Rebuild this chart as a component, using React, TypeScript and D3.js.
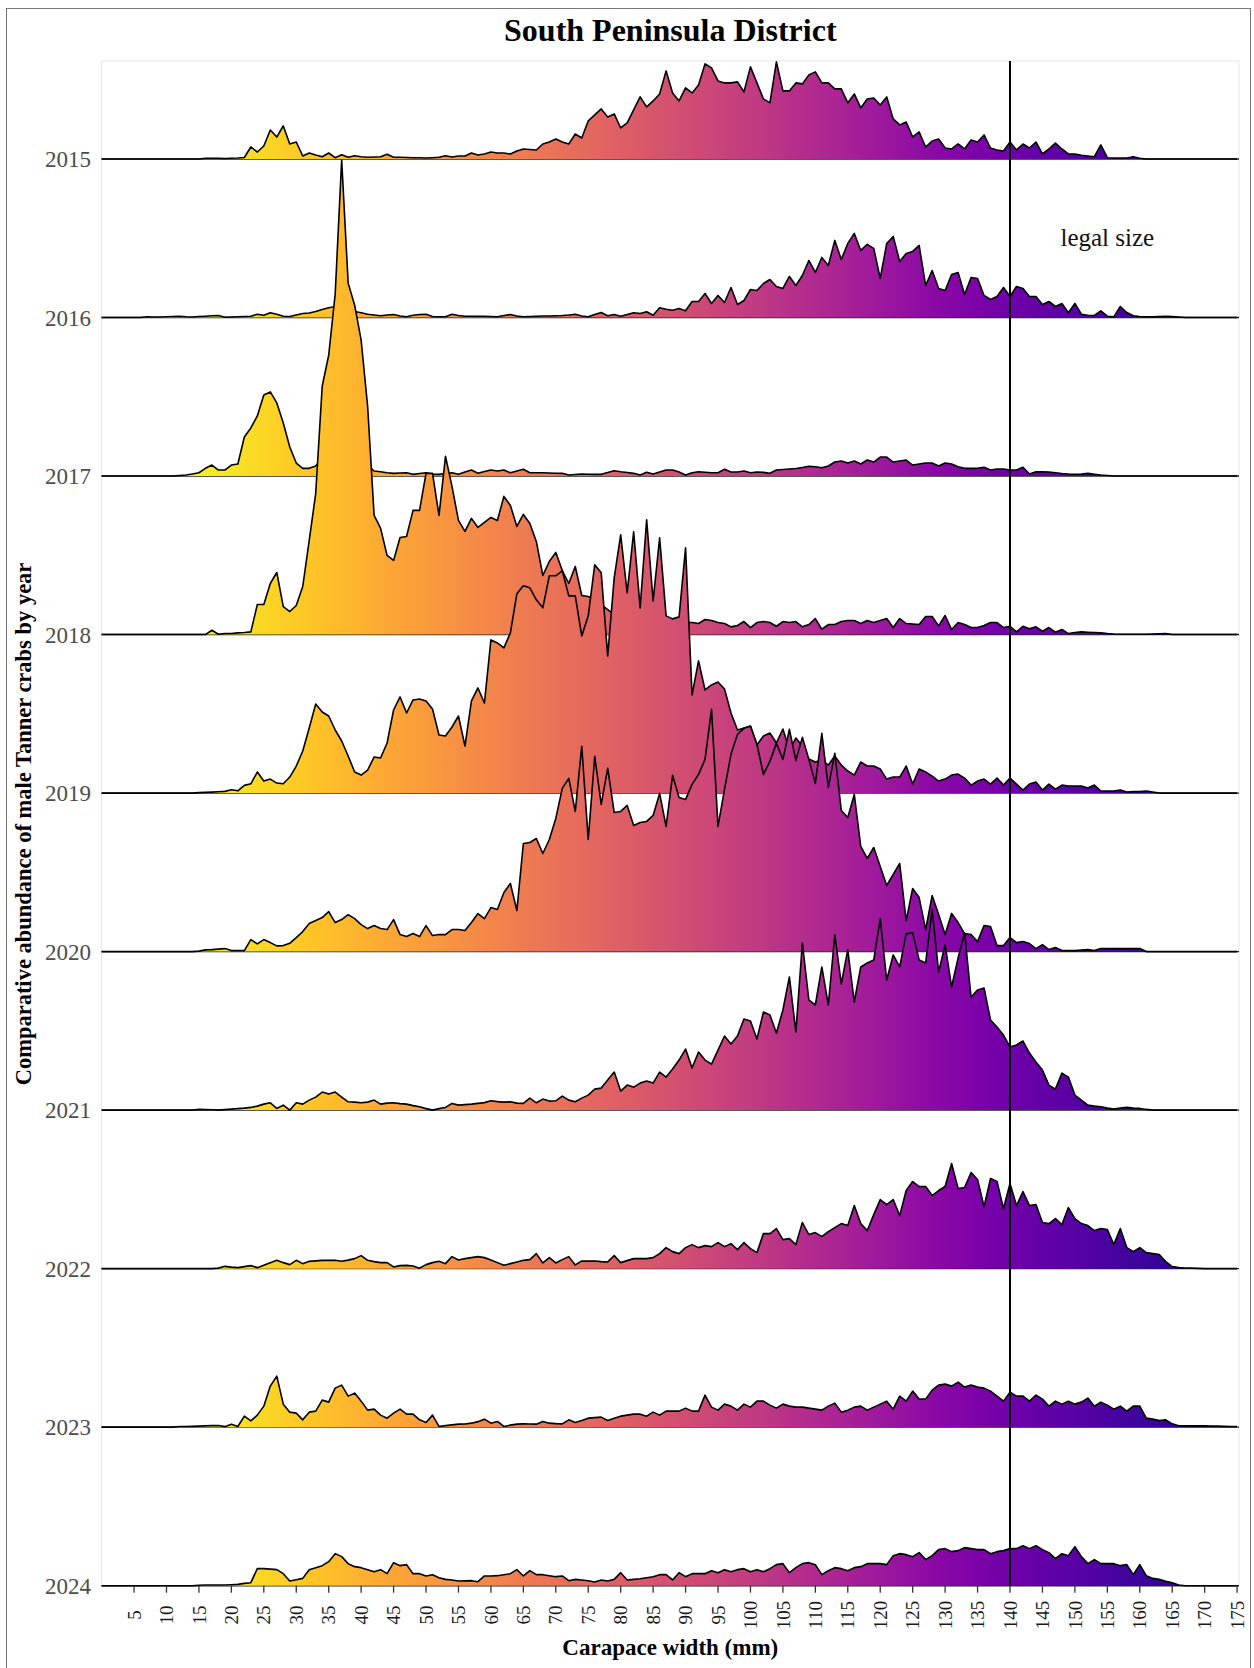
import React, { useEffect, useRef } from "react";
import * as d3 from "d3";

// Comparative abundance by 1 mm carapace-width bin.
// Each series starts at the mm given by its "from" value; bins outside are 0.
const years = ["2015", "2016", "2017", "2018", "2019", "2020", "2021", "2022", "2023", "2024"];
const xTicks = d3.range(5, 176, 5);
const legalSize = 140;

const from2015 = 10;
const cw2015 = [
  0, 0, 0, 0, 0, 0, 0.7, 0.7, 0.7, 0.5,
  0.7, 1, 1.5, 12, 7, 13, 29, 22, 33, 15,
  17, 3, 6, 4, 2.3, 6, 1.3, 4.3, 1.7, 3.3,
  2.3, 1.7, 2, 2.3, 4.7, 1.7, 1.7, 1.5, 1.3, 1.2,
  1, 1.3, 1.7, 3.3, 2, 3, 3, 6, 4, 5,
  7, 6, 6, 5, 8, 10, 9.5, 9, 15, 17,
  20, 17, 15, 25, 21, 38, 44, 50, 42, 45,
  31, 36, 49, 62, 52, 58, 65, 88, 66, 58,
  71, 66, 74, 95, 91, 78, 76, 76, 77, 67,
  92, 76, 60, 56, 97, 68, 68, 76, 75, 84,
  87, 76, 76, 70, 70, 56, 65, 51, 60, 61,
  54, 62, 40, 34, 37, 22, 27, 12, 18, 20,
  11, 10, 15, 10, 19, 17, 24, 11, 9, 8,
  17, 9, 15, 11, 17, 5, 10, 16, 10, 5,
  5, 3.7, 3, 2.3, 14, 1.3, 1, 1, 1, 2.3,
  0.7,
];

const from2016 = 0;
const cw2016 = [
  0, 0, 0, 0, 0, 0, 0, 0.7, 0.5, 0.5,
  0.7, 1, 1.3, 0.7, 0.5, 1, 1.3, 1.7, 2, 0.3,
  0.5, 0.7, 1, 1.3, 3.3, 2.3, 4.7, 3.3, 1.3, 1,
  2.5, 4, 4.5, 6, 8, 9.7, 11, 10, 8, 6,
  4.7, 3.3, 2.5, 1.7, 2.5, 3, 1.5, 0.7, 2.3, 3,
  3.3, 1, 0.7, 0.7, 3.3, 2, 1.3, 1.3, 1.3, 1.3,
  1, 0.7, 2, 3, 1.5, 0.7, 1, 1.2, 1.5, 1.5,
  1.7, 2, 2.5, 3.3, 1.5, 0.7, 3, 5, 1.7, 3,
  1.3, 3, 4.7, 4, 5.7, 2.3, 9.7, 8.3, 7.3, 9,
  6.7, 16, 16, 24, 14, 22, 15, 30, 13, 17,
  28, 27, 34, 38, 31, 29, 41, 32, 42, 57,
  45, 60, 52, 77, 58, 74, 84, 67, 73, 69,
  39, 74, 81, 56, 64, 66, 72, 32, 47, 29,
  27, 43, 45, 23, 40, 39, 22, 18, 21, 30,
  21, 31, 29, 21, 21, 13, 16, 11, 14, 4.7,
  14, 3.3, 2.3, 2, 6.7, 1.3, 0.7, 11, 5, 1.7,
  1, 0.7, 0.7, 1, 1.3, 1, 0.5,
];

const from2017 = 10;
const cw2017 = [
  0, 0, 0.5, 1, 2, 3.3, 7.7, 11, 6, 6,
  11, 12, 39, 48, 60, 81, 84, 73, 53, 29,
  13, 7.7, 7.7, 10, 18, 30, 40, 40, 32, 24,
  16, 11, 5, 4.3, 3.3, 2.7, 3, 3.3, 1.7, 2.5,
  3.3, 1.7, 1.7, 2.5, 3.3, 1.7, 4, 6, 2.7, 4.5,
  6, 5, 6, 3.3, 5, 6.7, 3.3, 3.3, 3.3, 3,
  2.8, 2.7, 1, 1.5, 2, 1.8, 1.7, 1.7, 3.5, 5.3,
  4.3, 3.5, 2.7, 1, 3.7, 2, 4, 6, 6, 4,
  1, 3.3, 4.3, 3.8, 3.3, 3.3, 6.7, 4, 4, 5,
  3.3, 4, 3.7, 2.7, 6, 6.5, 7, 7.5, 8.5, 9.7,
  9.3, 8.3, 10, 14, 15, 13, 15, 12, 16, 14,
  19, 19, 14, 15, 16, 11, 12, 13, 13, 10,
  13, 12, 9.3, 7.7, 7.7, 7.7, 8.7, 6, 7, 7,
  6, 6, 8.7, 2, 4.3, 4.2, 4, 3.3, 2.5, 2,
  1.7, 2, 2.7, 1.8, 1, 0.5,
];

const from2018 = 10;
const cw2018 = [
  0, 0, 0, 0, 0, 0, 0, 4.3, 0.3, 1,
  1, 1.7, 2, 2.7, 30, 30, 51, 62, 28, 23,
  29, 48, 94, 141, 248, 279, 340, 474, 351, 329,
  294, 228, 119, 106, 79, 74, 97, 98, 124, 124,
  161, 161, 119, 178, 148, 114, 103, 116, 107, 112,
  117, 114, 138, 129, 108, 120, 111, 93, 59, 73,
  82, 64, 51, 68, 39, 38, 35, 30, 25, 20,
  18, 16, 15, 14, 14, 13, 13, 12, 12, 12,
  12, 12, 11, 15, 14, 12, 11, 7.7, 9, 13,
  7, 12, 13, 12, 8.3, 13, 12, 13, 7.7, 10,
  16, 5.3, 10, 10, 13, 14, 14, 11, 14, 12,
  14, 16, 7, 16, 11, 10.5, 10, 18, 18, 8.7,
  19, 5, 12, 10, 7, 7, 9, 12, 12, 7,
  8.3, 2.7, 8.3, 5.7, 7.7, 3.3, 7, 2.3, 5, 1,
  2, 2.7, 2.3, 2, 1.7, 1, 0.5, 0.3, 0.3, 0.3,
  0.3, 0.3, 0.5, 0.7, 1,
];

const from2019 = 10;
const cw2019 = [
  0, 0, 0, 0, 0, 0.5, 0.7, 1, 1.3, 1.7,
  3.3, 2.3, 7.7, 9.3, 21, 12, 14, 10, 9.3, 16,
  27, 42, 65, 89, 81, 77, 63, 52, 37, 21,
  18, 23, 36, 35, 50, 83, 96, 80, 93, 94,
  92, 84, 58, 57, 66, 77, 47, 92, 105, 90,
  153, 150, 145, 160, 199, 207, 205, 193, 185, 217,
  217, 222, 197, 197, 157, 177, 228, 220, 137, 215,
  258, 200, 261, 185, 273, 192, 255, 177, 174, 176,
  245, 98, 132, 103, 108, 111, 104, 80, 63, 65,
  67, 48, 57, 60, 50, 64, 43, 55, 47, 34,
  31, 33, 28, 37, 28, 22, 18, 31, 27, 27,
  24, 14, 16, 16, 27, 9, 24, 21, 17, 12,
  14, 18, 19, 15, 8, 12, 14, 9, 15, 8,
  15, 9, 3, 9, 11, 3, 9, 4, 8, 7,
  7, 7, 5, 8, 2, 2, 2, 3, 1, 1.5,
  1.5, 2, 1,
];

const from2020 = 10;
const cw2020 = [
  0, 0, 0, 0, 0, 0.5, 1.7, 2, 2.5, 3,
  1, 1, 1, 12, 7.7, 12, 9, 5.7, 6, 8.3,
  14, 20, 28, 31, 34, 40, 29, 32, 37, 33,
  27, 23, 26, 23, 22, 32, 17, 15, 18, 15,
  26, 16, 17, 17, 22, 22, 21, 29, 38, 33,
  44, 42, 59, 68, 41, 108, 109, 113, 98, 112,
  133, 163, 173, 140, 205, 112, 195, 147, 183, 139,
  140, 146, 126, 129, 130, 136, 158, 125, 176, 154,
  152, 167, 177, 192, 242, 125, 162, 197, 217, 223,
  225, 207, 177, 190, 208, 192, 222, 191, 214, 192,
  168, 218, 164, 198, 141, 134, 157, 105, 93, 104,
  85, 66, 77, 88, 31, 63, 54, 22, 56, 37,
  17, 38, 29, 18, 17, 10, 26, 25, 6, 6,
  14, 9, 10, 8, 3, 7, 2, 4, 1, 1,
  1, 1.5, 2, 1, 3, 3, 3, 3, 3, 3,
  3,
];

const from2021 = 10;
const cw2021 = [
  0, 0, 0, 0, 0, 0.7, 0.5, 0.3, 0, 0.5,
  1, 1.5, 2, 2.7, 4, 6, 7.3, 1.7, 5, 0,
  7.3, 6, 10, 13, 18, 16, 18, 13, 8.3, 8,
  7.3, 8, 10, 6, 7, 7.3, 6.5, 6, 4.5, 3.3,
  1.5, 0, 1.5, 2.7, 6.7, 5, 5.5, 6, 6.7, 7.5,
  9.3, 8.5, 8, 8.3, 7, 6.7, 12, 7.3, 11, 9,
  9.3, 14, 10, 8.3, 12, 15, 21, 22, 30, 38,
  19, 25, 23, 27, 29, 27, 38, 33, 41, 50,
  61, 42, 58, 50, 46, 60, 74, 66, 74, 91,
  89, 71, 98, 95, 77, 100, 133, 78, 167, 110,
  105, 143, 105, 175, 126, 160, 108, 143, 147, 150,
  191, 130, 155, 143, 176, 177, 150, 147, 200, 138,
  165, 123, 152, 177, 113, 120, 122, 90, 83, 75,
  63, 65, 69, 57, 48, 40, 25, 21, 37, 33,
  15, 10, 5, 4, 3.3, 2, 1, 2, 2.7, 2,
  1.7, 0.7,
];

const from2022 = 10;
const cw2022 = [
  0, 0, 0, 0, 0, 0, 0, 0, 0.5, 2.3,
  1.5, 1, 2, 3, 1, 3.5, 6, 8.3, 6, 4,
  8.3, 5, 7.3, 7.8, 8.3, 8.3, 8.3, 7.3, 8.5, 10,
  13, 8.3, 7, 6, 6, 1.7, 3, 3.3, 2.7, 0.5,
  4, 6, 7.3, 5, 12, 8.7, 10, 11, 12, 11,
  8.7, 6, 3.3, 5, 6.7, 8.3, 9, 15, 5.7, 11,
  5.7, 9, 12, 3.7, 7.7, 7.5, 7.7, 7, 6.7, 13,
  6, 8, 10, 10, 10, 11, 15, 21, 17, 15,
  21, 24, 21, 23, 22, 26, 22, 25, 19, 26,
  20, 16, 35, 35, 40, 29, 30, 24, 46, 34,
  36, 32, 37, 41, 45, 43, 63, 45, 38, 54,
  69, 64, 69, 53, 78, 87, 82, 82, 73, 78,
  82, 105, 80, 81, 96, 89, 62, 90, 87, 60,
  85, 63, 77, 63, 64, 46, 45, 50, 44, 61,
  50, 45, 43, 38, 40, 39, 24, 40, 21, 17,
  21, 16, 15, 14, 7, 2, 1, 0.7, 0.5, 0.3,
];

const from2023 = 10;
const cw2023 = [
  0, 0, 0.7, 0.7, 0.8, 1, 1.3, 1.5, 1.7, 0.5,
  3, 0.7, 11, 6.3, 12, 21, 41, 51, 23, 15,
  14, 7.3, 15, 16, 27, 25, 39, 42, 31, 34,
  26, 17, 18, 12, 9, 14, 18, 13, 13, 7.3,
  4.7, 12, 0.7, 1.5, 2.3, 3, 3.2, 4, 5.5, 8,
  4, 5.7, 0.7, 2, 3, 3.3, 3.2, 3, 5.7, 4,
  3.5, 3.3, 7.3, 4.7, 6.7, 9, 9.5, 10, 6.7, 9,
  11, 12, 13, 13, 11, 15, 12, 16, 16, 16,
  19, 16, 16, 32, 20, 17, 23, 21, 17, 23,
  20, 26, 26, 22, 19, 23, 21, 20, 20, 19,
  18, 17, 21, 24, 15, 17, 20, 21, 17, 20,
  23, 26, 18, 31, 26, 36, 28, 28, 37, 42,
  43, 41, 45, 40, 42, 40, 39, 36, 31, 26,
  35, 31, 31, 26, 32, 28, 21, 26, 23, 26,
  23, 25, 29, 21, 25, 22, 18, 21, 16, 21,
  21, 9, 8, 6.7, 7.3, 3.3, 1.3, 1.3, 1.3, 1.3,
  1.3, 1, 1, 0.8, 0.7, 0.7,
];

const from2024 = 10;
const cw2024 = [
  0, 0, 0, 0, 0, 0.5, 0.7, 0.7, 0.7, 0.7,
  1, 1.3, 2.3, 3, 17, 17, 16.5, 16, 12, 4.7,
  6, 7.3, 16, 18, 20, 24, 32, 29, 22, 19,
  18, 16, 14, 16, 12, 23, 20, 21, 12, 12,
  9.7, 11, 8, 6.3, 5.7, 4.7, 4.8, 5, 4, 9.7,
  9.7, 10, 11, 12, 16, 9.7, 15, 11, 11, 10,
  9, 9.7, 5, 6.3, 5.7, 5, 3.7, 5.7, 4.7, 6.3,
  13, 5.7, 6.3, 7, 8, 9, 11, 11, 5.7, 13,
  9, 12, 12, 12, 15, 13, 16, 14, 16, 17,
  14, 16, 14, 17, 21, 22, 13, 18, 22, 23,
  21, 11, 15, 18, 17, 15, 18, 19, 22, 22,
  22, 21, 30, 32, 31, 29, 33, 26, 30, 36,
  37, 34, 35, 38, 37, 36, 36, 32, 34, 35,
  37, 37, 40, 37, 40, 36, 33, 27, 32, 30,
  39, 29, 22, 26, 22, 22, 22, 20, 21, 11,
  21, 10, 7.3, 6.3, 4.5, 3, 0.7,
];

const seriesFrom = [from2015, from2016, from2017, from2018, from2019, from2020, from2021, from2022, from2023, from2024];
const seriesValues = [cw2015, cw2016, cw2017, cw2018, cw2019, cw2020, cw2021, cw2022, cw2023, cw2024];

const serif = "'Liberation Serif', 'Times New Roman', Times, serif";

const App: React.FC = () => {
  const svgRef = useRef<SVGSVGElement | null>(null);

  useEffect(() => {
    const svg = d3.select(svgRef.current);
    svg.selectAll("*").remove();

    const width = 1254;
    const height = 1668;
    const panel = { left: 101.6, right: 1239, top: 61 };
    const firstBase = 159;
    const step = 158.52;

    const x = d3.scaleLinear().domain([0, 175]).range([panel.left, 1237.1]);
    const yBase = d3
      .scalePoint<string>()
      .domain(years)
      .range([firstBase, firstBase + step * (years.length - 1)]);
    const hScale = d3.scaleLinear().domain([0, 475]).range([0, step * 3]);
    const bottom = yBase(years[years.length - 1]) as number;

    svg.append("rect").attr("width", width).attr("height", height).attr("fill", "#fff");

    // outer frame
    svg.append("rect")
      .attr("x", 6.5)
      .attr("y", 8.5)
      .attr("width", 1244)
      .attr("height", 1700)
      .attr("fill", "none")
      .attr("stroke", "#777")
      .attr("stroke-width", 1);

    // plasma colour running from yellow (small crabs) to deep blue (large)
    const defs = svg.append("defs");
    const grad = defs
      .append("linearGradient")
      .attr("id", "plasmaFill")
      .attr("gradientUnits", "userSpaceOnUse")
      .attr("x1", x(12))
      .attr("x2", x(175))
      .attr("y1", 0)
      .attr("y2", 0);
    d3.range(0, 1.0001, 0.025).forEach((t) => {
      grad.append("stop").attr("offset", t).attr("stop-color", d3.interpolatePlasma(1 - t));
    });

    // panel border
    svg.append("rect")
      .attr("x", panel.left)
      .attr("y", panel.top)
      .attr("width", panel.right - panel.left)
      .attr("height", bottom - panel.top)
      .attr("fill", "none")
      .attr("stroke", "#e6e6e6")
      .attr("stroke-width", 1);

    // gridlines at each baseline
    svg.append("g")
      .selectAll("line")
      .data(years)
      .enter()
      .append("line")
      .attr("x1", panel.left)
      .attr("x2", panel.right)
      .attr("y1", (d) => yBase(d) as number)
      .attr("y2", (d) => yBase(d) as number)
      .attr("stroke", "#222")
      .attr("stroke-width", 1.4);

    // ridges, top row first so lower rows overlap
    years.forEach((yr, i) => {
      const base = yBase(yr) as number;
      const from = seriesFrom[i];
      const vals = seriesValues[i];
      const pts = d3.range(0, 176).map((mm) => {
        const k = mm - from;
        const v = k >= 0 && k < vals.length ? vals[k] : 0;
        return { mm, v };
      });
      const area = d3
        .area<{ mm: number; v: number }>()
        .x((d) => x(d.mm))
        .y0(base)
        .y1((d) => base - hScale(d.v));
      const line = d3
        .line<{ mm: number; v: number }>()
        .x((d) => x(d.mm))
        .y((d) => base - hScale(d.v));
      const g = svg.append("g");
      g.append("path").attr("d", area(pts) as string).attr("fill", "url(#plasmaFill)");
      g.append("path")
        .attr("d", line(pts) as string)
        .attr("fill", "none")
        .attr("stroke", "#000")
        .attr("stroke-width", 1.6)
        .attr("stroke-linejoin", "round");
    });

    // legal size line
    svg.append("line")
      .attr("x1", x(legalSize))
      .attr("x2", x(legalSize))
      .attr("y1", panel.top)
      .attr("y2", bottom)
      .attr("stroke", "#000")
      .attr("stroke-width", 2);

    svg.append("text")
      .attr("x", x(155))
      .attr("y", 246)
      .attr("text-anchor", "middle")
      .style("font-family", serif)
      .style("font-size", "25px")
      .attr("fill", "#111")
      .text("legal size");

    // y labels
    svg.append("g")
      .selectAll("text")
      .data(years)
      .enter()
      .append("text")
      .attr("x", 91)
      .attr("y", (d) => yBase(d) as number)
      .attr("dy", "0.35em")
      .attr("text-anchor", "end")
      .style("font-family", serif)
      .style("font-size", "23px")
      .attr("fill", "#4d4d4d")
      .text((d) => d);

    // x axis ticks + labels
    const ax = svg.append("g");
    ax.selectAll("line")
      .data(xTicks)
      .enter()
      .append("line")
      .attr("x1", (d) => x(d))
      .attr("x2", (d) => x(d))
      .attr("y1", bottom)
      .attr("y2", bottom + 7)
      .attr("stroke", "#333")
      .attr("stroke-width", 1.3);
    ax.selectAll("text")
      .data(xTicks)
      .enter()
      .append("text")
      .attr("transform", (d) => `translate(${x(d)},1615) rotate(-90)`)
      .attr("dy", "0.35em")
      .attr("text-anchor", "middle")
      .style("font-family", serif)
      .style("font-size", "19px")
      .attr("fill", "#1a1a1a")
      .text((d) => String(d));

    // titles
    svg.append("text")
      .attr("x", (panel.left + panel.right) / 2)
      .attr("y", 40.5)
      .attr("text-anchor", "middle")
      .style("font-family", serif)
      .style("font-size", "32px")
      .style("font-weight", "bold")
      .text("South Peninsula District");

    svg.append("text")
      .attr("x", (panel.left + panel.right) / 2)
      .attr("y", 1655)
      .attr("text-anchor", "middle")
      .style("font-family", serif)
      .style("font-size", "23px")
      .style("font-weight", "bold")
      .text("Carapace width (mm)");

    svg.append("text")
      .attr("transform", `translate(31,824) rotate(-90)`)
      .attr("text-anchor", "middle")
      .style("font-family", serif)
      .style("font-size", "22.5px")
      .style("font-weight", "bold")
      .text("Comparative abundance of male Tanner crabs by year");
  }, []);

  return (
    <svg
      ref={svgRef}
      width={1254}
      height={1668}
      style={{ position: "absolute", left: 0, top: 0 }}
    ></svg>
  );
};

export default App;
